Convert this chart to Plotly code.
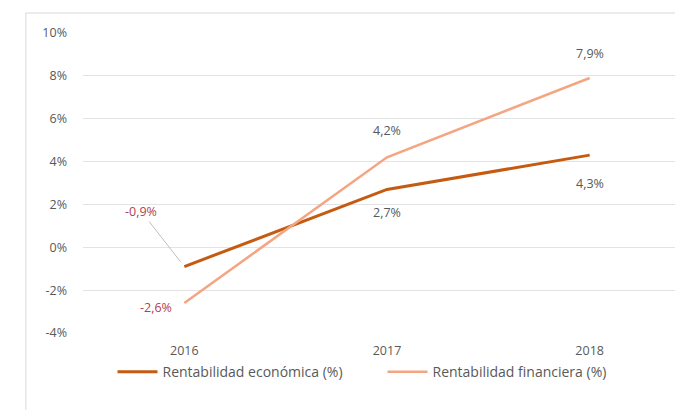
import plotly.graph_objects as go

years = ["2016", "2017", "2018"]
economica = [-0.9, 2.7, 4.3]
financiera = [-2.6, 4.2, 7.9]
eco_labels = ["-0,9%", "2,7%", "4,3%"]
fin_labels = ["-2,6%", "4,2%", "7,9%"]
y_ticks = [-4, -2, 0, 2, 4, 6, 8, 10]
y_ticktext = ["-4%", "-2%", "0%", "2%", "4%", "6%", "8%", "10%"]
series_names = ["Rentabilidad económica (%)", "Rentabilidad financiera (%)"]

C_ECO = "#C55A11"
C_FIN = "#F4A582"
C_TXT = "#595959"
C_NEG = "#B0414F"
FONT = "Open Sans"
FS = 12.5

fig = go.Figure()
fig.add_trace(go.Scatter(x=years, y=economica, mode="lines", name=series_names[0],
                         line=dict(color=C_ECO, width=3)))
fig.add_trace(go.Scatter(x=years, y=financiera, mode="lines", name=series_names[1],
                         line=dict(color=C_FIN, width=2.5)))

# data labels (x given as category index)
eco_offsets = [(-43, 55), (0, -23), (0, -28)]
fin_offsets = [(-28, -4), (0, 27), (0, 25)]
ann = []
for i, (v, t) in enumerate(zip(economica, eco_labels)):
    dx, dy = eco_offsets[i]
    col = C_NEG if v < 0 else C_TXT
    if i == 0:
        ann.append(dict(x=i, y=v, text=t, showarrow=True, ax=dx, ay=-dy,
                        arrowhead=0, arrowwidth=1, arrowcolor="#BFBFBF", standoff=6,
                        font=dict(color=col, size=FS, family=FONT)))
    else:
        ann.append(dict(x=i, y=v, text=t, showarrow=False, xshift=dx, yshift=dy,
                        font=dict(color=col, size=FS, family=FONT)))
for i, (v, t) in enumerate(zip(financiera, fin_labels)):
    dx, dy = fin_offsets[i]
    col = C_NEG if v < 0 else C_TXT
    ann.append(dict(x=i, y=v, text=t, showarrow=False, xshift=dx, yshift=dy,
                    font=dict(color=col, size=FS, family=FONT)))

fig.update_layout(
    width=683, height=410,
    margin=dict(l=75, r=0, t=25, b=85),
    paper_bgcolor="white", plot_bgcolor="white",
    font=dict(family=FONT, size=FS, color=C_TXT),
    showlegend=True,
    legend=dict(orientation="h", xref="container", yref="container",
                x=0.153, y=0.112, xanchor="left", yanchor="middle",
                bgcolor="rgba(0,0,0,0)",
                font=dict(size=14, color=C_TXT, family=FONT),
                itemwidth=40, tracegroupgap=0, entrywidth=215),
    annotations=ann,
    shapes=[dict(type="rect", xref="paper", yref="paper",
                 x0=-0.094, x1=1.05, y0=-0.35, y1=1.0667,
                 line=dict(color="#D9D9D9", width=1), layer="below")],
)
fig.update_xaxes(type="category", range=[-0.5, 2.5], showgrid=False, zeroline=False,
                 showline=False, ticks="", automargin=False,
                 ticklabelstandoff=8, tickfont=dict(size=FS, color=C_TXT))
fig.update_yaxes(range=[-4, 10], tickvals=y_ticks, ticktext=y_ticktext,
                 showgrid=True, gridcolor="#E3E3E3", gridwidth=1,
                 zeroline=True, zerolinecolor="#E3E3E3", zerolinewidth=1,
                 showline=False, ticks="", ticklabelstandoff=15, automargin=False,
                 tickfont=dict(size=FS, color=C_TXT))

fig.write_html("out.html")
